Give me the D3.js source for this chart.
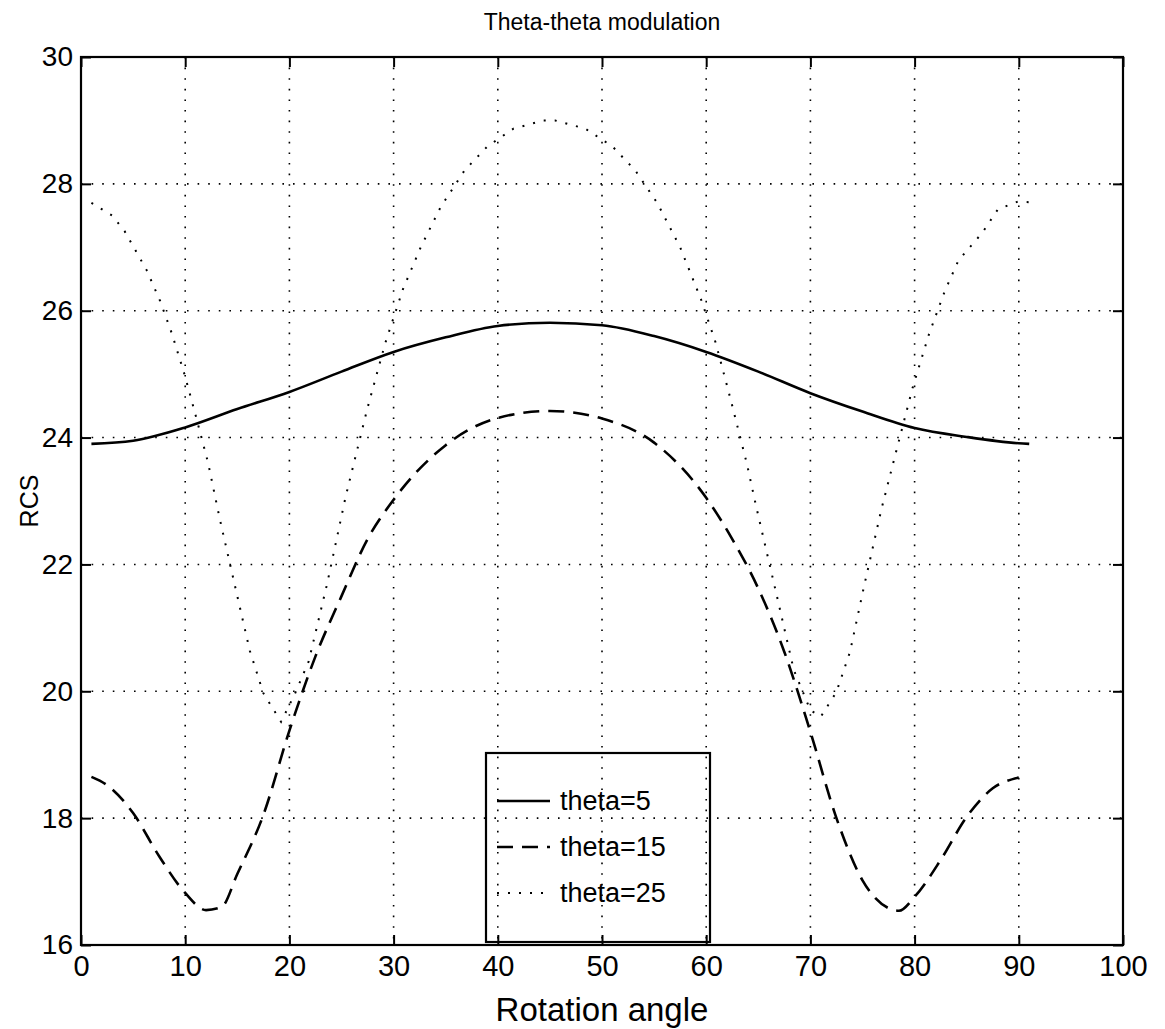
<!DOCTYPE html>
<html>
<head>
<meta charset="utf-8">
<script src="https://d3js.org/d3.v7.min.js"></script>
<style>
  body { margin: 0; background: #fff; }
  text { font-family: "Liberation Sans", Arial, sans-serif; fill: #000; }
</style>
</head>
<body>
<svg id="chart" width="1165" height="1029"></svg>
<script>
// values
var x5 = [1, 5, 10, 15, 20, 25, 30, 35, 40, 45, 50, 55, 60, 65, 70, 75, 80, 85, 90, 91];
var y5 = [23.9, 23.95, 24.16, 24.45, 24.72, 25.04, 25.35, 25.58, 25.76, 25.81, 25.77, 25.6, 25.35, 25.04, 24.7, 24.41, 24.15, 24.01, 23.91, 23.9];

var x15 = [1, 2.5, 5, 7.5, 10, 12, 13.5, 15, 17.5, 20, 22.5, 25, 27.5, 30, 35, 40, 45, 50, 55, 60, 62.5, 65, 67.5, 70, 72.5, 75, 77.5, 78.5, 80, 82.5, 85, 87.5, 90];
var y15 = [18.65, 18.52, 18.08, 17.4, 16.82, 16.55, 16.6, 17.12, 18.05, 19.38, 20.55, 21.5, 22.4, 23.02, 23.88, 24.31, 24.42, 24.3, 23.92, 23.05, 22.4, 21.62, 20.62, 19.36, 18.0, 17.02, 16.58, 16.54, 16.76, 17.34, 18.02, 18.47, 18.64];

var x25 = [1, 3, 4.2, 6.3, 7.6, 8.7, 10, 11.1, 12.2, 13.3, 14.75, 16.2, 17.5, 19.2, 20.5, 21.85, 23.6, 25.4, 27.5, 29.2, 30.9, 32.6, 34.5, 36.8, 39, 41.5, 44.4, 45.5, 48.4, 51, 53.2, 55.3, 57.5, 59.5, 60.9, 62.3, 63.9, 64.8, 66.8, 68.4, 70, 71, 72.5, 73.8, 75.1, 76.8, 77.9, 79.8, 81.4, 82.9, 84.2, 86.5, 88, 89.9, 91];
var y25 = [27.7, 27.5, 27.25, 26.64, 26.15, 25.65, 24.96, 24.29, 23.6, 22.73, 21.68, 20.64, 19.97, 19.52, 19.95, 20.47, 21.68, 23.07, 24.47, 25.49, 26.34, 27.0, 27.63, 28.21, 28.59, 28.87, 29.0, 29.0, 28.87, 28.59, 28.21, 27.7, 27.0, 26.18, 25.5, 24.63, 23.59, 22.91, 21.49, 20.34, 19.7, 19.6, 19.99, 20.62, 21.62, 22.86, 23.57, 24.78, 25.64, 26.31, 26.79, 27.23, 27.6, 27.72, 27.71];

var seriesNames = ["theta=5", "theta=15", "theta=25"];
var xTicks = [0, 10, 20, 30, 40, 50, 60, 70, 80, 90, 100];
var yTicks = [16, 18, 20, 22, 24, 26, 28, 30];

var margin = {top: 57, right: 42, bottom: 84, left: 81},
    width = 1165 - margin.left - margin.right,
    height = 1029 - margin.top - margin.bottom;

var svg = d3.select("#chart");
var g = svg.append("g")
    .attr("transform", "translate(" + margin.left + "," + margin.top + ")");

var x = d3.scaleLinear().domain([0, 100]).range([0, width]);
var y = d3.scaleLinear().domain([16, 30]).range([height, 0]);

// dotted grid
g.append("g").selectAll("line.vg")
    .data(xTicks.slice(1, -1))
    .enter().append("line")
    .attr("x1", function(d){ return x(d); })
    .attr("x2", function(d){ return x(d); })
    .attr("y1", 0).attr("y2", height)
    .attr("stroke", "#000").attr("stroke-width", 1.6)
    .attr("stroke-dasharray", "1.6,9");
g.append("g").selectAll("line.hg")
    .data(yTicks.slice(1, -1))
    .enter().append("line")
    .attr("y1", function(d){ return y(d); })
    .attr("y2", function(d){ return y(d); })
    .attr("x1", 0).attr("x2", width)
    .attr("stroke", "#000").attr("stroke-width", 1.6)
    .attr("stroke-dasharray", "1.6,9");

// axes, ticks pointing inward on all four sides
var bottomAxis = d3.axisBottom(x).tickValues(xTicks).tickSize(-10).tickPadding(10);
var topAxis = d3.axisTop(x).tickValues(xTicks).tickSize(-10).tickFormat("");
var leftAxis = d3.axisLeft(y).tickValues(yTicks).tickSize(-10).tickPadding(8);
var rightAxis = d3.axisRight(y).tickValues(yTicks).tickSize(-10).tickFormat("");

function styleAxis(fs) {
    return function(sel) {
        sel.select(".domain").remove();
        sel.selectAll("line").attr("stroke", "#000").attr("stroke-width", 2);
        sel.selectAll("text").attr("font-size", fs).attr("fill", "#000")
            .style("font-family", "'Liberation Sans', Arial, sans-serif");
    };
}
g.append("g").attr("transform", "translate(0," + height + ")").call(bottomAxis).call(styleAxis(29));
g.append("g").call(topAxis).call(styleAxis(29));
g.append("g").call(leftAxis).call(styleAxis(28));
g.append("g").attr("transform", "translate(" + width + ",0)").call(rightAxis).call(styleAxis(28));

// frame
g.append("rect")
    .attr("width", width).attr("height", height)
    .attr("fill", "none").attr("stroke", "#000").attr("stroke-width", 2.2);

// curves
var line = d3.line()
    .x(function(d){ return x(d[0]); })
    .y(function(d){ return y(d[1]); });

var series = [
    {name: seriesNames[0], pts: d3.zip(x5, y5), dash: null, curve: d3.curveMonotoneX, w: 2.6},
    {name: seriesNames[1], pts: d3.zip(x15, y15), dash: "16,9", curve: d3.curveMonotoneX, w: 2.6},
    {name: seriesNames[2], pts: d3.zip(x25, y25), dash: "2,9", curve: d3.curveLinear, w: 2}
];

g.selectAll("path.series")
    .data(series)
    .enter().append("path")
    .attr("class", "series")
    .attr("fill", "none")
    .attr("stroke", "#000")
    .attr("stroke-width", function(d){ return d.w; })
    .attr("stroke-dasharray", function(d){ return d.dash; })
    .attr("d", function(d){ return line.curve(d.curve)(d.pts); });

// legend (transparent box, as in the original)
var lg = g.append("g").attr("transform", "translate(" + (486 - margin.left) + "," + (753 - margin.top) + ")");
lg.append("rect")
    .attr("width", 224).attr("height", 189)
    .attr("fill", "none").attr("stroke", "#000").attr("stroke-width", 2.2);
var items = lg.selectAll("g.item")
    .data(series)
    .enter().append("g")
    .attr("transform", function(d, i){ return "translate(0," + (48 + i * 46) + ")"; });
items.append("line")
    .attr("x1", 11).attr("x2", 64)
    .attr("stroke", "#000")
    .attr("stroke-width", function(d){ return d.w; })
    .attr("stroke-dasharray", function(d){ return d.dash; });
items.append("text")
    .attr("x", 74).attr("dy", "0.35em")
    .attr("font-size", 27)
    .text(function(d){ return d.name; });

// titles
svg.append("text")
    .attr("x", margin.left + width / 2).attr("y", 30)
    .attr("text-anchor", "middle").attr("font-size", 23)
    .text("Theta-theta modulation");
svg.append("text")
    .attr("x", margin.left + width / 2).attr("y", 1021)
    .attr("text-anchor", "middle").attr("font-size", 33)
    .text("Rotation angle");
svg.append("text")
    .attr("transform", "translate(38," + (margin.top + height / 2) + ") rotate(-90)")
    .attr("text-anchor", "middle").attr("font-size", 25)
    .text("RCS");
</script>
</body>
</html>
